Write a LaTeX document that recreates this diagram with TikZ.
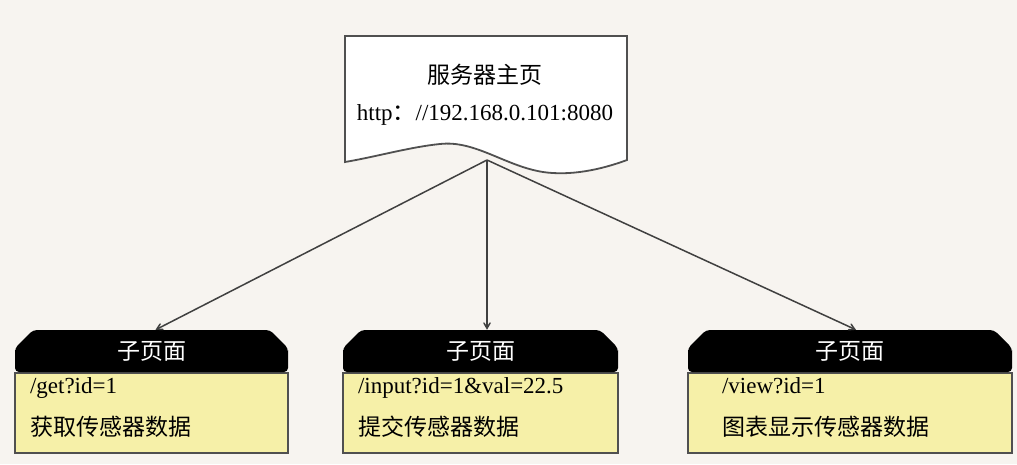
\documentclass[tikz,border=0pt]{standalone}
\usepackage{fontspec}
\setmainfont{Liberation Serif}
\newfontfamily\cjk{Noto Sans CJK SC}
\usetikzlibrary{arrows,shapes,positioning}
\definecolor{bgcol}{RGB}{247,244,240}
\definecolor{bodycol}{RGB}{246,240,168}
\definecolor{rimcol}{RGB}{80,80,80}
\tikzstyle{pagehead}=[chamfered rectangle, chamfered rectangle corners={north west,north east}, chamfered rectangle sep=9pt, rounded corners=4pt, fill=black, text=white, minimum height=42pt, inner sep=0pt, font=\cjk\fontsize{23}{27}\selectfont]
\tikzstyle{pagebody}=[rectangle, draw=rimcol, line width=1.5pt, fill=bodycol, minimum height=80pt, align=left, anchor=north, font=\fontsize{23}{42}\selectfont]
\tikzstyle{edge} = [draw,line width=1.5pt,->,>=angle 60,black!75]

\begin{document}
\begin{tikzpicture}[x=1pt, y=-1pt]

    \useasboundingbox (0,0) rectangle (1017,464);
    \fill[bgcol] (0,0) rectangle (1017,464);

    % server page (document shape)
    \draw[line width=1.8pt, draw=rimcol, fill=white] (345,36) -- (627,36) -- (627,160)
        .. controls (600,170) and (570,176) .. (543,172)
        .. controls (505,166) and (475,140) .. (440,144)
        .. controls (410,147) and (375,157) .. (345,162) -- cycle;
    \node[align=center, font=\fontsize{23}{37}\selectfont] (srv) at (485,95)
        {{\cjk 服务器主页}\\http{\cjk ：}//192.168.0.101:8080};
    \coordinate (srvout) at (487,160);

    % sub pages
    \foreach \x/\w/\pad/\name/\link/\job in {15/273/15/get/{/get?id=1}/{获取传感器数据},
                                            343/275/15/input/{/input?id=1\&val=22.5}/{提交传感器数据},
                                            688/324/34/view/{/view?id=1}/{图表显示传感器数据}}
    {
        \pgfmathsetmacro{\tw}{\w-2*\pad}
        \node[pagebody, minimum width=\w pt, text width=\tw pt, inner xsep=\pad pt] (bd\name) at (\x+\w/2, 372) {\link\\{\cjk\job}\rule[-13pt]{0pt}{1pt}};
        \node[pagehead, minimum width=\w pt] (hd\name) at (\x+\w/2, 351) {子页面};
    }

    \path[edge] (srvout) -- ([xshift=4pt]hdget.north);
    \path[edge] (srvout) -- (srvout |- hdinput.north);
    \path[edge] (srvout) -- ([xshift=6pt]hdview.north);

\end{tikzpicture}
\end{document}
